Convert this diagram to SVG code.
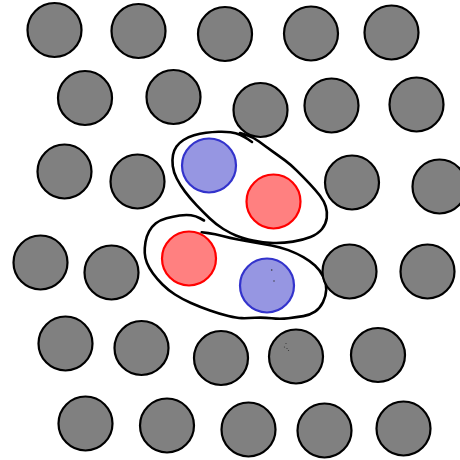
<svg xmlns="http://www.w3.org/2000/svg" width="460" height="460" viewBox="0 0 460 460">
<style>
.g{fill:#808080;stroke:#000;stroke-width:2.2}
.b{fill:#9696e2;stroke:#3333cc;stroke-width:2.2}
.r{fill:#ff8080;stroke:#ff0000;stroke-width:2.2}
.loop{fill:none;stroke:#000;stroke-width:2.6;stroke-linecap:round;stroke-linejoin:round}
.dot{fill:#333}
</style>
<rect width="460" height="460" fill="#fff"/>
<g id="connectors">
<path id="loop-upper" class="loop" d="M252,142 L248,139.25 Q244,136.5 240,134.75 Q236,133 230.5,132.25 Q225,131.5 218.5,131.75 Q212,132 206,132.75 Q200,133.5 194,135.25 Q188,137 183.5,140 Q179,143 176.5,146.5 Q174,150 173,155 Q172,160 172.75,166 Q173.5,172 176.75,178.5 Q180,185 185,191.65 Q190,198.3 196.5,205.15 Q203,212 209.85,218.5 Q216.7,225 223.35,229 Q230,233 236.5,235.75 Q243,238.5 253,240.6 Q263,242.7 273,243 Q283,243.3 293,241.65 Q303,240 310.5,237 Q318,234 322,229 Q326,224 326.75,218 Q327.5,212 325.75,206.5 Q324,201 320,195.75 Q316,190.5 309.5,183.6 Q303,176.7 296.5,170.35 Q290,164 285,160.35 Q280,156.7 272.5,151.35 Q265,146 259,141.5 Q253,137 246.5,135 L240,133"/>
<path id="loop-lower" class="loop" d="M204,220.5 L200,218.25 Q196,216 191,215.25 Q186,214.5 179.5,215.5 Q173,216.5 166.5,218.25 Q160,220 155.85,223.35 Q151.7,226.7 149.1,231.35 Q146.5,236 145.5,242 Q144.5,248 144.75,253 Q145,258 147,263 Q149,268 153,273.5 Q157,279 162.5,284.5 Q168,290 175,294.5 Q182,299 191,303 Q200,307 210,310.5 Q220,314 228.35,316 Q236.7,318 241.7,318.15 Q246.7,318.3 255,317.8 Q263.3,317.3 271.65,318.3 Q280,319.3 288.35,318.3 Q296.7,317.3 303.35,316.15 Q310,315 315,311.65 Q320,308.3 323,302.15 Q326,296 326.25,289.65 Q326.5,283.3 323.25,276.65 Q320,270 315,265.5 Q310,261 303.35,257.15 Q296.7,253.3 288.35,250.15 Q280,247 271.5,245.5 Q263,244 254.5,242.5 Q246,241 238,239.5 Q230,238 222.5,236 Q215,234 208.35,233.15 L201.7,232.3"/>
</g>
<g id="n1"><circle class="g" cx="54.5" cy="30" r="27"/></g>
<g id="n2"><circle class="g" cx="138.5" cy="31" r="27"/></g>
<g id="n3"><circle class="g" cx="225" cy="34" r="27"/></g>
<g id="n4"><circle class="g" cx="311" cy="33.5" r="27"/></g>
<g id="n5"><circle class="g" cx="391.5" cy="32.5" r="27"/></g>
<g id="n6"><circle class="g" cx="85" cy="98" r="27"/></g>
<g id="n7"><circle class="g" cx="173.5" cy="97" r="27"/></g>
<g id="n8"><circle class="g" cx="260.5" cy="110" r="27"/></g>
<g id="n9"><circle class="g" cx="331.5" cy="105.5" r="27"/></g>
<g id="n10"><circle class="g" cx="416.5" cy="104.5" r="27"/></g>
<g id="n11"><circle class="g" cx="64.5" cy="171.5" r="27"/></g>
<g id="n12"><circle class="g" cx="137.5" cy="181.5" r="27"/></g>
<g id="blue1"><circle class="b" cx="209" cy="165.5" r="27"/></g>
<g id="red1"><circle class="r" cx="273.5" cy="201.5" r="27"/></g>
<g id="n13"><circle class="g" cx="352" cy="182.5" r="27"/></g>
<g id="n14"><circle class="g" cx="439.5" cy="186.5" r="27"/></g>
<g id="n15"><circle class="g" cx="40.5" cy="262.5" r="27"/></g>
<g id="n16"><circle class="g" cx="111.5" cy="272.5" r="27"/></g>
<g id="red2"><circle class="r" cx="189" cy="258.5" r="27"/></g>
<g id="blue2"><circle class="b" cx="267" cy="285.5" r="27"/>
<circle class="dot" cx="271.7" cy="270" r="0.8"/><circle class="dot" cx="274" cy="281" r="0.7"/></g>
<g id="n17"><circle class="g" cx="349.5" cy="271.5" r="27"/></g>
<g id="n18"><circle class="g" cx="427.5" cy="271.5" r="27"/></g>
<g id="n19"><circle class="g" cx="65.5" cy="343.5" r="27"/></g>
<g id="n20"><circle class="g" cx="141.5" cy="348" r="27"/></g>
<g id="n21"><circle class="g" cx="221" cy="358" r="27"/></g>
<g id="n22"><circle class="g" cx="296" cy="356.5" r="27"/>
<circle class="dot" cx="286" cy="343.5" r="0.6"/><circle class="dot" cx="284.5" cy="347" r="0.6"/><circle class="dot" cx="287" cy="348.5" r="0.6"/><circle class="dot" cx="288.5" cy="350.5" r="0.6"/></g>
<g id="n23"><circle class="g" cx="378" cy="355" r="27"/></g>
<g id="n24"><circle class="g" cx="85.5" cy="423.5" r="27"/></g>
<g id="n25"><circle class="g" cx="167" cy="425.5" r="27"/></g>
<g id="n26"><circle class="g" cx="248.5" cy="429.5" r="27"/></g>
<g id="n27"><circle class="g" cx="324.5" cy="430.5" r="27"/></g>
<g id="n28"><circle class="g" cx="403.5" cy="428.5" r="27"/></g>
</svg>
